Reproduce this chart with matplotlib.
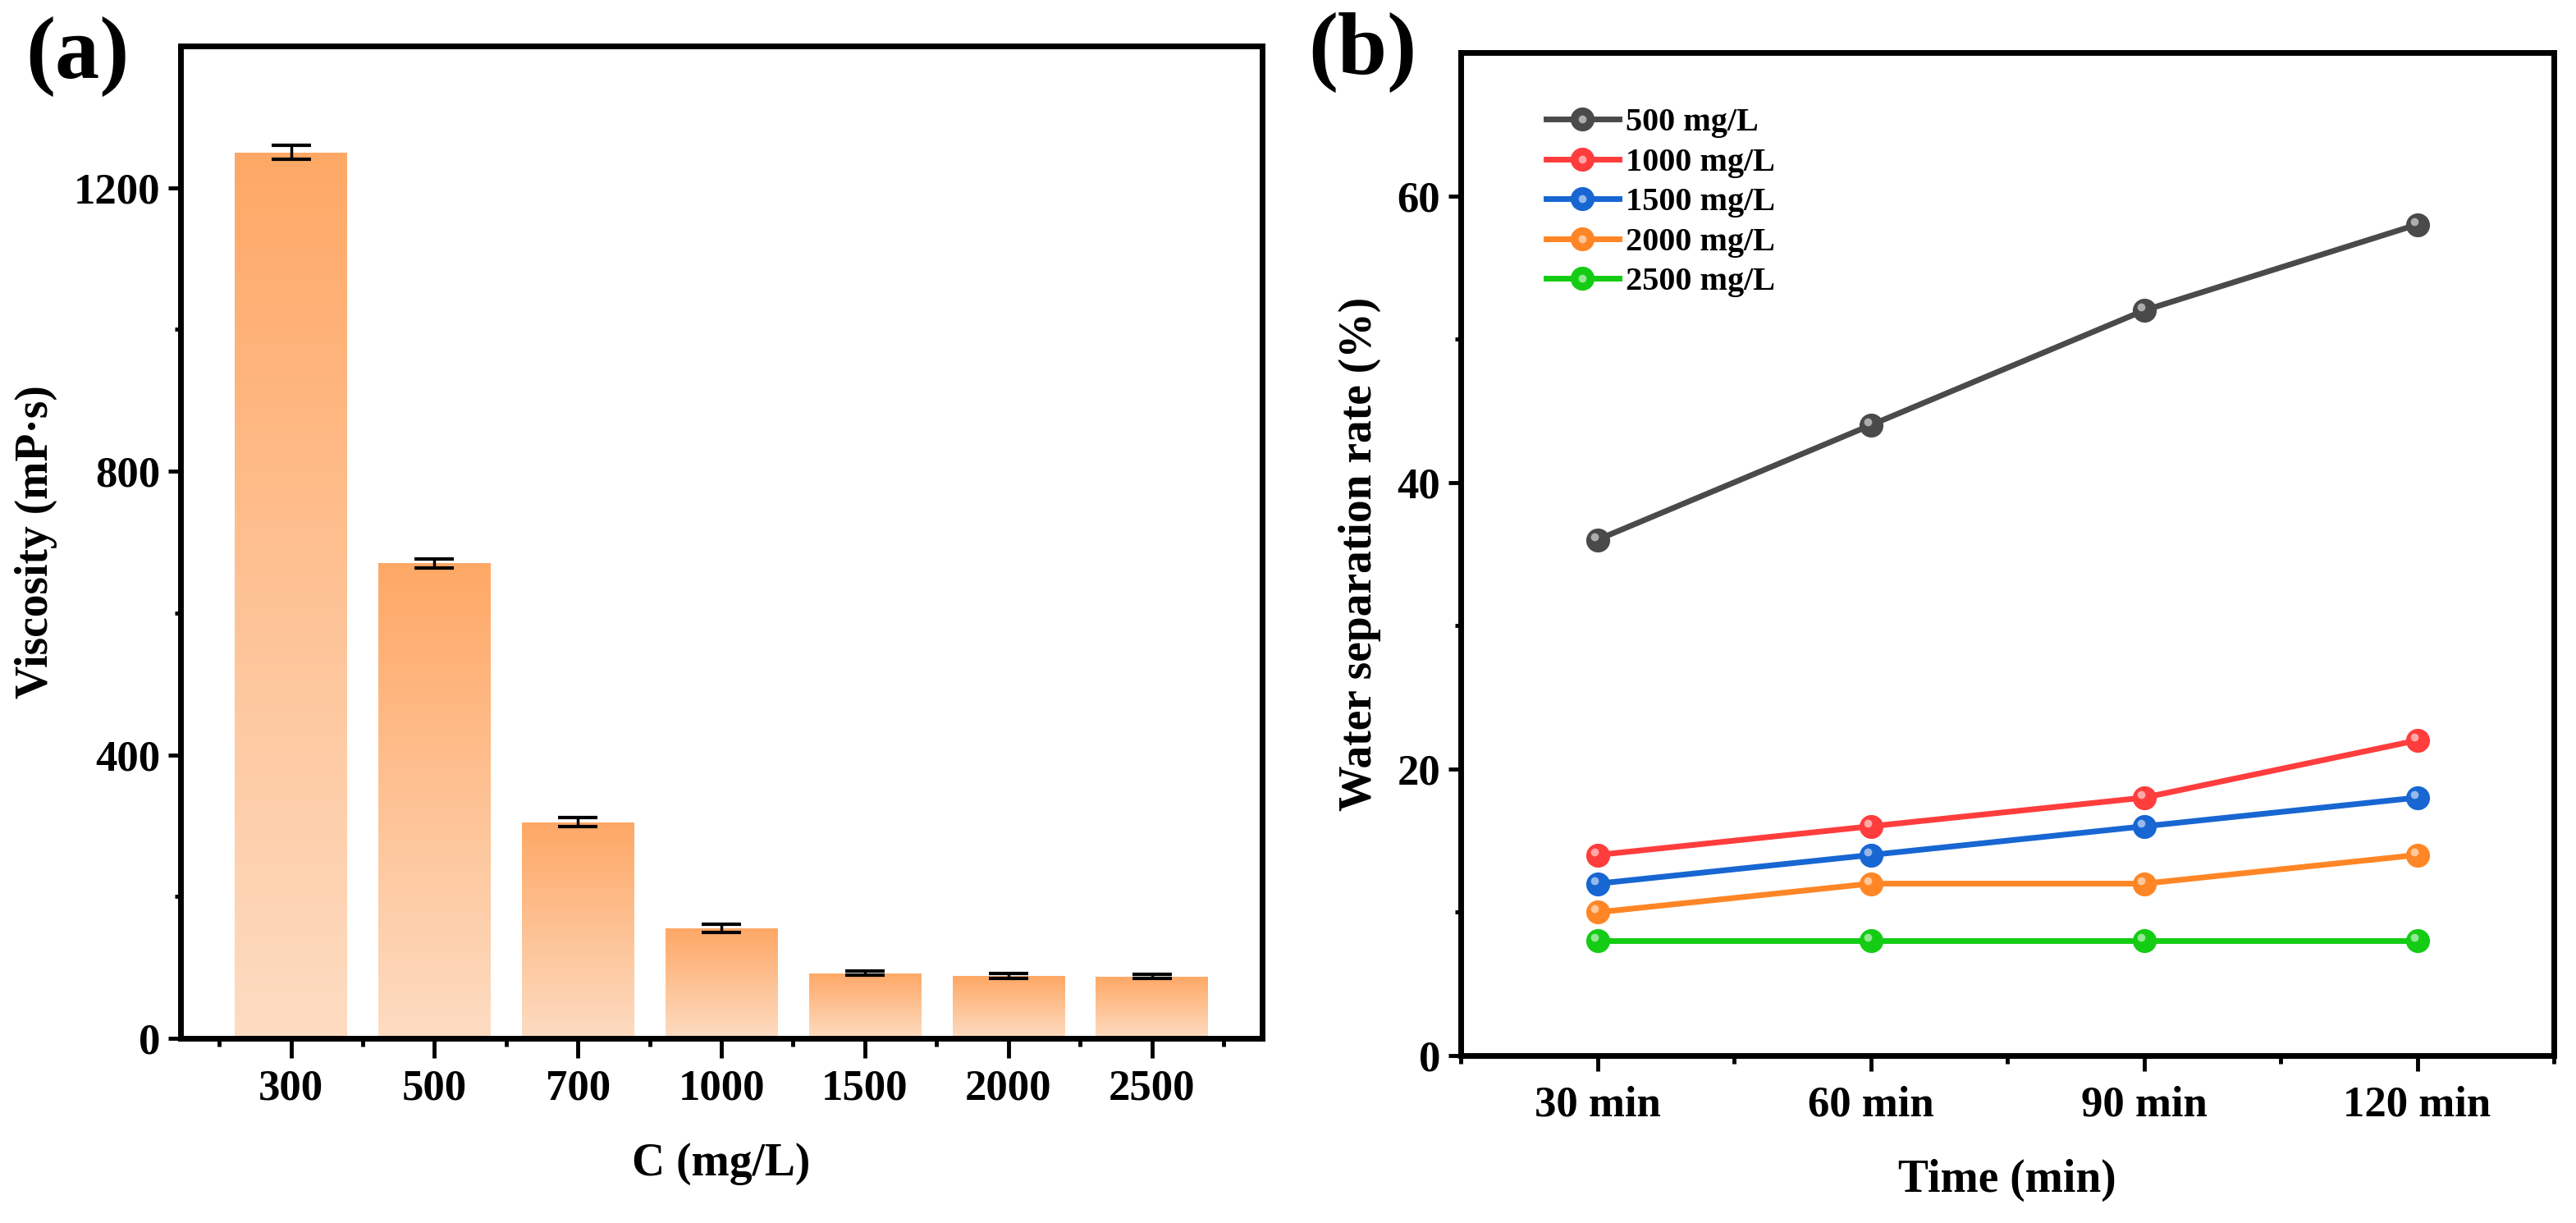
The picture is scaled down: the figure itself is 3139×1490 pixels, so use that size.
import numpy as np
import matplotlib
matplotlib.use("Agg")
import matplotlib.pyplot as plt
from matplotlib import transforms
from matplotlib.colors import LinearSegmentedColormap
from matplotlib.ticker import FixedLocator
from matplotlib.legend_handler import HandlerTuple

plt.rcParams['font.family'] = ['Liberation Serif', 'DejaVu Serif']
plt.rcParams['font.weight'] = 'bold'

# ---------------- data ----------------
conc_labels = ['300', '500', '700', '1000', '1500', '2000', '2500']
viscosity = [1250, 670, 305, 155, 92, 88, 87]
viscosity_err = [10, 6, 6, 6, 3, 4, 3]

time_labels = ['30 min', '60 min', '90 min', '120 min']
series_names = ['500 mg/L', '1000 mg/L', '1500 mg/L', '2000 mg/L', '2500 mg/L']
sep_500 = [36, 44, 52, 58]
sep_1000 = [14, 16, 18, 22]
sep_1500 = [12, 14, 16, 18]
sep_2000 = [10, 12, 12, 14]
sep_2500 = [8, 8, 8, 8]
series_colors = ['#4a4a4a', '#ff3d3d', '#1766d2', '#ff8626', '#14cc14']

fig = plt.figure(figsize=(31.39, 14.90), dpi=100)

TICK_FS = 38
LABEL_FS = 40
SPINE_W = 5

def style_axes(ax):
    for s in ax.spines.values():
        s.set_linewidth(SPINE_W)
    ax.tick_params(which='major', direction='out', length=11, width=3.5,
                   labelsize=TICK_FS, pad=7)
    ax.tick_params(which='minor', direction='out', length=5, width=3.5)

# ---------------- panel (a) ----------------
axa = fig.add_axes([0.0701, 0.1510, 0.4199, 0.8114])
x = np.arange(len(conc_labels))
bw = 0.78
bars = axa.bar(x, viscosity, width=bw, color='none', edgecolor='none', zorder=2)
cmap = LinearSegmentedColormap.from_list('og', ['#fddcc2', '#ffa866'])
grad = np.linspace(0, 1, 256).reshape(-1, 1)
for b in bars:
    x0 = b.get_x(); h = b.get_height(); w = b.get_width()
    im = axa.imshow(grad, cmap=cmap, aspect='auto', origin='lower',
                    extent=[x0, x0 + w, 0, h], zorder=2, interpolation='bicubic')
    im.set_clip_path(b)
axa.errorbar(x, viscosity, yerr=viscosity_err, fmt='none', ecolor='black',
             elinewidth=2.5, capsize=17, capthick=3, zorder=3)
axa.set_xlim(-0.77, len(conc_labels) - 1 + 0.77)
axa.set_ylim(0, 1400)
axa.yaxis.set_major_locator(FixedLocator([0, 400, 800, 1200]))
axa.yaxis.set_minor_locator(FixedLocator([200, 600, 1000]))
axa.set_xticks(x)
axa.set_xticklabels(conc_labels)
axa.xaxis.set_minor_locator(FixedLocator(np.arange(-0.5, len(conc_labels), 1.0)))
style_axes(axa)
axa.tick_params(axis='x', which='major', length=17, pad=10)
axa.tick_params(axis='x', which='minor', length=7)
axa.set_xlabel('C (mg/L)', fontsize=LABEL_FS, fontweight='bold', labelpad=30)
axa.set_ylabel('Viscosity (mP·s)', fontsize=LABEL_FS, fontweight='bold', labelpad=14)
fig.text(0.010, 0.987, '(a)', fontsize=78, fontweight='bold', va='top', ha='left')

# ---------------- panel (b) ----------------
axb = fig.add_axes([0.5671, 0.1369, 0.4243, 0.8201])
t = np.arange(len(time_labels))
all_series = [sep_500, sep_1000, sep_1500, sep_2000, sep_2500]
hl_trans = transforms.offset_copy(axb.transData, fig=fig, x=-4, y=4, units='dots')
handles = []
for vals, name, col in zip(all_series, series_names, series_colors):
    ln, = axb.plot(t, vals, '-o', color=col, lw=5, ms=21, mec=col, mew=0,
                   label=name, zorder=3)
    hl, = axb.plot(t, vals, 'o', color='white', alpha=0.55, ms=7, mew=0,
                   transform=hl_trans, zorder=4)
    handles.append((ln, hl))
axb.set_xlim(-0.5, len(time_labels) - 0.5)
axb.set_ylim(0, 70)
axb.yaxis.set_major_locator(FixedLocator([0, 20, 40, 60]))
axb.yaxis.set_minor_locator(FixedLocator([10, 30, 50]))
axb.set_xticks(t)
axb.set_xticklabels(time_labels)
axb.xaxis.set_minor_locator(FixedLocator(np.arange(-0.5, len(time_labels), 1.0)))
style_axes(axb)
axb.tick_params(axis='x', which='major', length=14, pad=12)
axb.tick_params(axis='x', which='minor', length=7)
axb.set_xlabel('Time (min)', fontsize=LABEL_FS, fontweight='bold', labelpad=30)
axb.set_ylabel('Water separation rate (%)', fontsize=LABEL_FS, fontweight='bold', labelpad=14)
axb.legend(handles, series_names, loc='upper left', bbox_to_anchor=(0.078, 0.945),
           frameon=False, fontsize=29, handlelength=2.2, handletextpad=0.2,
           labelspacing=0.28, borderpad=0, borderaxespad=0,
           handler_map={tuple: HandlerTuple(ndivide=1, pad=0)})
fig.text(0.508, 0.990, '(b)', fontsize=78, fontweight='bold', va='top', ha='left')

fig.savefig('out.png', dpi=100)
